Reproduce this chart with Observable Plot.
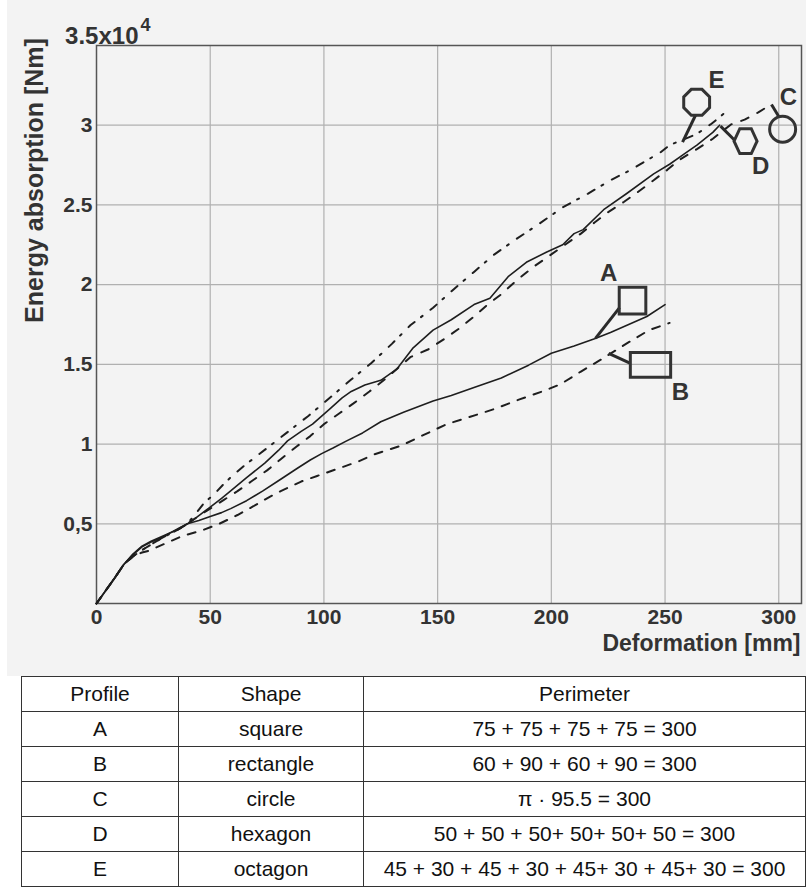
<!DOCTYPE html>
<html><head><meta charset="utf-8">
<script src="https://cdn.jsdelivr.net/npm/d3@7"></script>
<script src="https://cdn.jsdelivr.net/npm/@observablehq/plot@0.6"></script>
<style>
body{margin:0;background:#fff;width:806px;height:888px;overflow:hidden;font-family:"Liberation Sans",Arial,sans-serif;position:relative}
#chart svg{display:block}
#tbl{position:absolute;left:21px;top:676px;border-collapse:collapse;width:784px;table-layout:fixed;font-family:"Liberation Sans",Arial,sans-serif;font-size:21px;color:#111}
#tbl td{border:1px solid #333;text-align:center;vertical-align:middle;height:34px;padding:0}
</style></head><body>
<div id="chart"></div>
<table id="tbl"></table>
<script>
// ---- data (deformation in mm, energy in Nm) ----
const profileA = [[0,0],[4,800],[8,1600],[12,2450],[16,3050],[20,3550],[24,3850],[28,4100],[32,4400],[36,4650],[40,5000],[45,5200],[50,5450],[55,5700],[59,5950],[66,6450],[73,7050],[80,7700],[88,8450],[94,9000],[99,9400],[104,9750],[110,10200],[117,10700],[125,11400],[135,12000],[148,12700],[156,13050],[166,13550],[178,14150],[190,14950],[200,15700],[210,16150],[219,16600],[226,17000],[234,17500],[242,18000],[250,18750]];
const profileB = [[0,0],[4,800],[8,1600],[12,2450],[16,2950],[20,3200],[23,3310],[31,3810],[38,4250],[46,4560],[54,5000],[62,5550],[69,6100],[75,6600],[81,7050],[90,7650],[97,8000],[107,8500],[115,8900],[122,9350],[134,9900],[141,10380],[154,11250],[163,11650],[175,12200],[186,12800],[196,13300],[204,13750],[213,14550],[223,15400],[233,16300],[243,17150],[252,17600]];
const profileC = [[0,0],[4,800],[8,1600],[12,2450],[16,2950],[20,3350],[24,3700],[28,4050],[32,4350],[36,4650],[40,5000],[45,5500],[50,5950],[56,6500],[62,7050],[68,7650],[75,8350],[81,9050],[88,9850],[94,10500],[100,11250],[107,11950],[113,12550],[120,13300],[128,14200],[138,15450],[146,15950],[153,16600],[159,17200],[166,18000],[172,18750],[178,19400],[185,20300],[192,21100],[200,21900],[206,22500],[213,23200],[219,23900],[225,24550],[232,25200],[238,25800],[245,26550],[251,27200],[256,27800],[264,28500],[271,29150],[279,30050],[285,30350],[291,30800],[296,31250]];
const profileD = [[0,0],[4,800],[8,1600],[12,2450],[16,3100],[20,3600],[24,3900],[28,4150],[32,4400],[36,4700],[40,5000],[44,5400],[50,6050],[55,6600],[59,7060],[66,7900],[74,8800],[80,9600],[84,10200],[90,10800],[95,11250],[103,12250],[108,12900],[112,13300],[118,13700],[125,14000],[132,14700],[139,16000],[148,17150],[156,17800],[166,18750],[173,19150],[181,20500],[189,21400],[198,22050],[205,22500],[210,23200],[214,23450],[223,24700],[233,25700],[245,26950],[252,27550],[258,28150],[264,28750],[271,29550],[274,30000]];
const profileE = [[0,0],[4,800],[8,1600],[12,2450],[16,2950],[20,3350],[24,3700],[28,4050],[32,4350],[36,4650],[40,5000],[44,5700],[47,6250],[52,6900],[56,7500],[60,8050],[65,8650],[70,9200],[75,9750],[84,10750],[93,11750],[103,12950],[112,14050],[121,15100],[130,16300],[138,17450],[148,18550],[157,19700],[166,20800],[175,21900],[185,22900],[195,23850],[205,24850],[216,25700],[226,26550],[235,27200],[242,27800],[248,28300],[252,28750],[258,29100],[264,29450],[270,30050],[274,30500],[278,31000]];

const profileNames = ["A","B","C","D","E"];
const profileDash = {A:null, B:"8,9", C:"8,10", D:null, E:"8,8,2,10"};
const xTicks = [0,50,100,150,200,250,300];
const yTicks = [5000,10000,15000,20000,25000,30000];

// annotation labels, icons and leader lines (data coordinates)
const labelNames = ["A","B","C","D","E"];
const labelX = [225.2,256.8,304.3,292,272.6];
const labelY = [20690,13250,31750,27440,32810];
const iconShape = ["square","rectangle","circle","hexagon","octagon"];
const iconX = [235.7,243.6,301.7,285.4,263.9];
const iconY = [19000,14970,29750,29000,31440];
const leaderX1 = [219.4,225.2,296.8,274.4,257.7];
const leaderY1 = [16625,15690,31300,29940,28940];
const leaderX2 = [230,234.8,300.2,280.6,263.4];
const leaderY2 = [18560,15060,30500,29060,30625];

// table
const tableHeader = ["Profile","Shape","Perimeter"];
const tableProfile = ["A","B","C","D","E"];
const tableShape = ["square","rectangle","circle","hexagon","octagon"];
const tablePerimeter = ["75 + 75 + 75 + 75 = 300","60 + 90 + 60 + 90 = 300","\u03c0 \u00b7 95.5 = 300","50 + 50 + 50+ 50+ 50+ 50 = 300","45 + 30 + 45 + 30 + 45+ 30 + 45+ 30 = 300"];

// ---- build ----
const series = {A:profileA,B:profileB,C:profileC,D:profileD,E:profileE};
const lineRows = profileNames.flatMap(p => series[p].map(([x,y]) => ({profile:p, x, y})));

function poly(points){
  return {draw(ctx, size){
    const r = Math.sqrt(size/Math.PI);
    points.forEach(([px,py],i) => i ? ctx.lineTo(px*r,py*r) : ctx.moveTo(px*r,py*r));
    ctx.closePath();
  }};
}
const oct = [];
for (let k=0;k<8;k++){ const a = (22.5+45*k)*Math.PI/180; oct.push([Math.cos(a),Math.sin(a)]); }
const symbols = {
  square: poly([[-1,-1],[1,-1],[1,1],[-1,1]]),
  rectangle: poly([[-1.55,-0.95],[1.55,-0.95],[1.55,0.95],[-1.55,0.95]]),
  circle: {draw(ctx,size){const r=Math.sqrt(size/Math.PI); ctx.moveTo(r,0); ctx.arc(0,0,r,0,2*Math.PI);}},
  hexagon: poly([[-1,0],[-0.5,-1.08],[0.5,-1.08],[1,0],[0.5,1.08],[-0.5,1.08]]),
  octagon: poly(oct)
};
const iconR = {square:13.3, rectangle:13, circle:13, hexagon:11.5, octagon:14};
const icons = iconShape.map((s,i) => ({s, x:iconX[i], y:iconY[i]}));
const labels = labelNames.map((t,i) => ({t, x:labelX[i], y:labelY[i]}));
const leaders = leaderX1.map((x1,i) => ({x1, y1:leaderY1[i], x2:leaderX2[i], y2:leaderY2[i]}));

const marks = [
  Plot.gridX(xTicks.slice(1), {stroke:"#b0b0b0", strokeOpacity:1, strokeWidth:1.2}),
  Plot.gridY(yTicks, {stroke:"#b0b0b0", strokeOpacity:1, strokeWidth:1.2}),
  Plot.axisX({ticks:xTicks, tickSize:0, tickPadding:6, label:null, fontSize:21, fontWeight:"bold"}),
  Plot.axisY({ticks:yTicks, tickSize:0, tickPadding:4, label:null, fontSize:21, fontWeight:"bold",
    tickFormat: d => d===5000 ? "0,5" : String(d/10000)}),
  Plot.text(["3.5x10"], {frameAnchor:"top-left", dx:42, dy:-2, textAnchor:"end", lineAnchor:"bottom", fontSize:24, fontWeight:"bold"}),
  Plot.text(["4"], {frameAnchor:"top-left", dx:44, dy:-15, textAnchor:"start", lineAnchor:"bottom", fontSize:18, fontWeight:"bold"}),
  Plot.text(["Deformation [mm]"], {frameAnchor:"bottom-right", dx:-1, dy:40, textAnchor:"end", lineAnchor:"middle", fontSize:23, fontWeight:"bold"}),
  Plot.text(["Energy absorption [Nm]"], {frameAnchor:"top-left", dx:-62, dy:135, rotate:-90, textAnchor:"middle", lineAnchor:"middle", fontSize:25, fontWeight:"bold"}),
  Plot.frame({stroke:"#555", strokeWidth:1.5})
];
for (const p of profileNames) {
  marks.push(Plot.line(lineRows.filter(d => d.profile===p), {x:"x", y:"y", stroke:"#1e1e1e",
    strokeWidth: profileDash[p] ? 2 : 1.6, strokeDasharray: profileDash[p] || undefined}));
}
marks.push(Plot.link(leaders, {x1:"x1", y1:"y1", x2:"x2", y2:"y2", stroke:"#2a2a2a", strokeWidth:3}));
for (const ic of icons) {
  marks.push(Plot.dot([ic], {x:"x", y:"y", r:iconR[ic.s], symbol:symbols[ic.s], stroke:"#333", strokeWidth:3, fill:"none"}));
}
marks.push(Plot.text(labels, {x:"x", y:"y", text:"t", fontSize:24, fontWeight:"bold", fill:"#333"}));

const chart = Plot.plot({
  width:806, height:676,
  marginLeft:96, marginRight:5, marginTop:45, marginBottom:73,
  x:{domain:[0,310]}, y:{domain:[0,35000]},
  style:{background:"linear-gradient(to right, #ffffff 7px, #f3f3f3 7px)", fontFamily:"'Liberation Sans', Arial, sans-serif", color:"#333", fontWeight:"bold"},
  marks
});
document.getElementById("chart").appendChild(chart);

const tbl = document.getElementById("tbl");
const cg = document.createElement("colgroup");
[157,185,442].forEach(w => { const c=document.createElement("col"); c.style.width=w+"px"; cg.appendChild(c); });
tbl.appendChild(cg);
const rows = [tableHeader].concat(tableProfile.map((p,i) => [p, tableShape[i], tablePerimeter[i]]));
rows.forEach(r => {
  const tr = document.createElement("tr");
  r.forEach(v => { const td=document.createElement("td"); td.textContent=v; tr.appendChild(td); });
  tbl.appendChild(tr);
});
</script></body></html>
